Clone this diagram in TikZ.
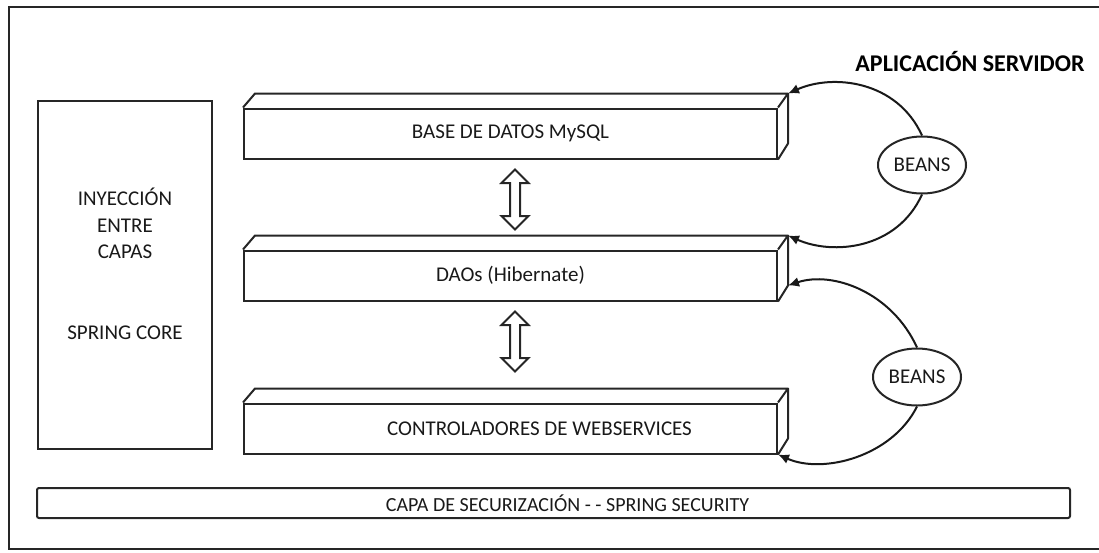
\documentclass[tikz,border=0pt]{standalone}
\usepackage{fontspec}
\setmainfont{Carlito}
\usetikzlibrary{shapes.geometric,positioning,arrows.meta}

\begin{document}
\begin{tikzpicture}[x=1pt,y=-1pt,
      every node/.style={font=\fontsize{21}{26.5}\selectfont,text=black!90},
      box/.style={rectangle,draw=black!85,line width=2pt,inner sep=0pt},
      layer/.style={box,minimum width=533pt,minimum height=50pt},
      face/.style={draw=black!85,line width=2pt,line join=round},
      bean/.style={ellipse,draw=black!85,line width=2pt,inner sep=0pt,
                   minimum width=88pt,minimum height=57pt},
      twoway/.style={draw=black!85,line width=2pt,line join=miter},
      inject/.style={draw=black!90,line width=2pt,-{Latex[length=11pt,width=10pt]}},
    ]
      \useasboundingbox (0,0) rectangle (1099,552);
      \draw[box] (9,7) rectangle (1112,549);
      \node[font=\fontsize{24}{28}\selectfont\bfseries,text=black] (title) at (970,62) {APLICACIÓN SERVIDOR};

      \node[box,minimum width=174pt,minimum height=348pt,align=center] (core) at (125,275)
        {INYECCIÓN\\ENTRE\\CAPAS\\[54pt]SPRING CORE\\[-4pt]\mbox{}};

      \node[layer] (bd) at (510.5,133.5) {BASE DE DATOS MySQL};
      \node[layer,below=90pt of bd] (dao) {DAOs (Hibernate)};
      \node[layer,below=101pt of dao] (ctrl) {\hspace*{58pt}CONTROLADORES DE WEBSERVICES};
      \foreach \b in {bd,dao,ctrl}
        \draw[face] (\b.north west) -- ++(12,-14) -- ++(533,0) coordinate (\b-ne)
          -- ++(0,50) coordinate (\b-se) -- (\b.south east)
          (\b.north east) -- (\b-ne);

      % hollow two-way arrows between the layers
      \foreach \b in {bd,dao}
        \draw[twoway] (\b.south) ++(4.5,10) -- ++(13.5,13.5) -- ++(-8.5,0) -- ++(0,33)
          -- ++(8.5,0) -- ++(-13.5,13.5) -- ++(-13.5,-13.5) -- ++(8.5,0) -- ++(0,-33)
          -- ++(-8.5,0) -- cycle;

      \node[bean] (beans1) at (922,165) {BEANS};
      \node[bean] (beans2) at (917,377) {BEANS};
      \draw[inject] (beans1.north) .. controls +(-25,-55) and +(45,-20) .. (bd-ne);
      \draw[inject] (beans1.south) .. controls +(-25,55) and +(45,20) .. (dao-ne);
      \draw[inject] (beans2.north) .. controls +(-25,-55) and +(45,-15) .. (dao-se);
      \draw[inject] (beans2.south) .. controls +(-25,50) and +(45,20) .. (ctrl.south east);

      \node[box,rounded corners=2pt,minimum width=1033pt,minimum height=30pt,
            font=\fontsize{20}{24}\selectfont] (sec) at (553.5,503)
        {\hspace*{28pt}CAPA DE SECURIZACIÓN - - SPRING SECURITY};
    \end{tikzpicture}
\end{document}
